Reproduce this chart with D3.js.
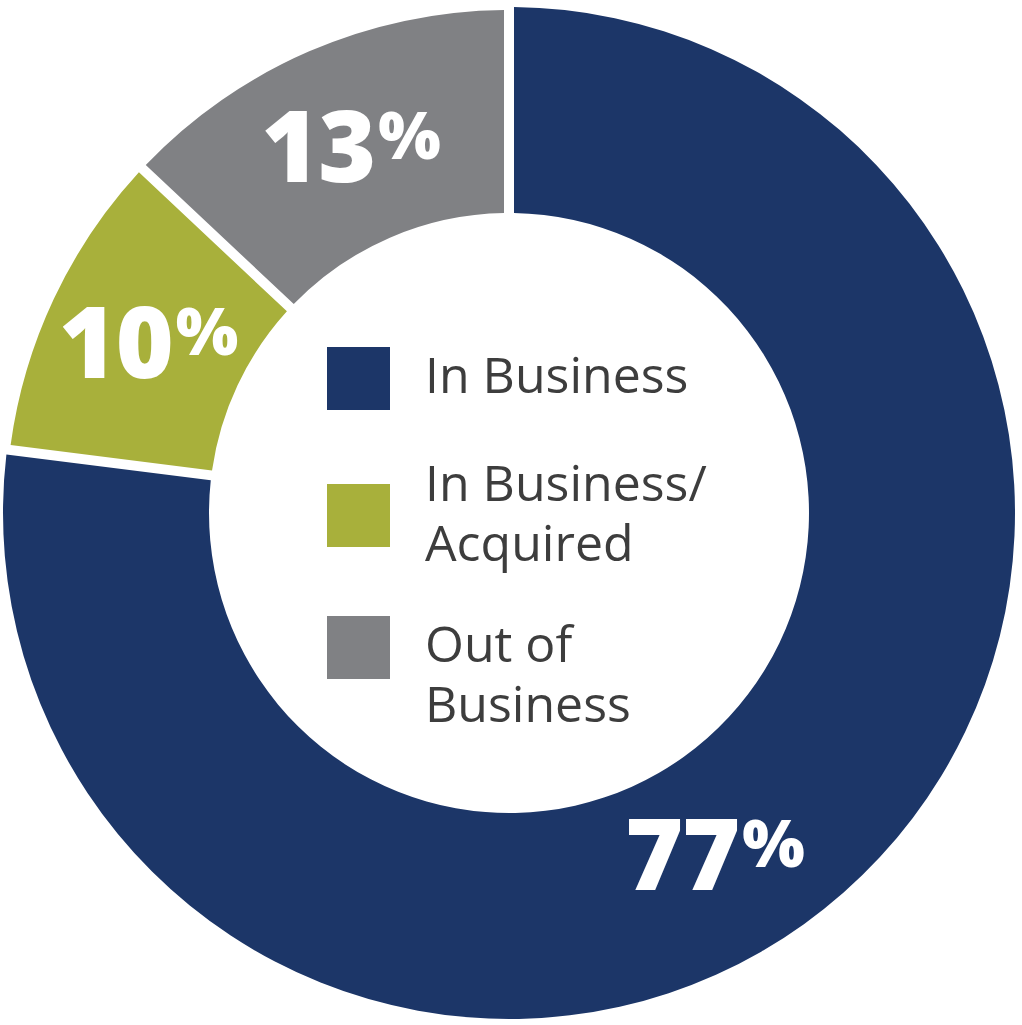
<!DOCTYPE html>
<html>
<head>
<meta charset="utf-8">
<script src="https://cdn.jsdelivr.net/npm/d3@7"></script>
<style>
  html, body { margin: 0; padding: 0; background: #ffffff; }
  svg { display: block; }
</style>
</head>
<body>
<svg id="chart" width="1022" height="1025"></svg>
<script>
// ---- data ----
const categories = ["In Business", "In Business/Acquired", "Out of Business"];
const values = [77, 10, 13];
const valueLabels = ["77", "10", "13"];
const legendLines = [["In Business"], ["In Business/", "Acquired"], ["Out of", "Business"]];
const colors = ["#1c3668", "#a8b03b", "#808184"];

// ---- layout / style ----
const W = 1022, H = 1025;
const cx = 509, cy = 513;
const innerR = 300;
const outerRs = [506, 503, 503];
const gap = 10;
const labelR = 399;
const labelAngleFrac = [0.5375, 0.5, 0.5];

const svg = d3.select("#chart");
const g = svg.append("g").attr("transform", `translate(${cx},${cy})`);

const pie = d3.pie().sort(null).value(d => d)(values);

const arc = d3.arc()
  .innerRadius(innerR)
  .padRadius(innerR)
  .padAngle(gap / innerR);

g.selectAll("path.slice")
  .data(pie)
  .join("path")
  .attr("class", "slice")
  .attr("fill", (d, i) => colors[i])
  .attr("d", (d, i) => arc.outerRadius(outerRs[i])(d));

// value labels
const bigSize = 99, pctSize = 66;
const capH = bigSize * 0.714;
pie.forEach((d, i) => {
  const a = d.startAngle + (d.endAngle - d.startAngle) * labelAngleFrac[i];
  const x = labelR * Math.sin(a);
  const y = -labelR * Math.cos(a);
  const t = g.append("text")
    .attr("x", x)
    .attr("y", y + capH / 2)
    .attr("text-anchor", "middle")
    .attr("fill", "#ffffff")
    .attr("font-family", "'Open Sans', sans-serif")
    .attr("font-weight", 800)
    .attr("font-size", bigSize)
    .attr("letter-spacing", -1);
  t.append("tspan").text(valueLabels[i]);
  t.append("tspan")
    .attr("font-size", pctSize)
    .attr("dy", -(capH - pctSize * 0.714))
    .attr("dx", 3)
    .text("%");
});

// legend
const legend = svg.append("g");
const sqX = 327, sqSize = 63;
const sqYs = [347, 484, 616];
const textX = 425;
const firstBaselines = [393, 501, 662];
const lineH = 60;
categories.forEach((c, i) => {
  legend.append("rect")
    .attr("x", sqX).attr("y", sqYs[i])
    .attr("width", sqSize).attr("height", sqSize)
    .attr("fill", colors[i]);
  const t = legend.append("text")
    .attr("fill", "#3d3d3d")
    .attr("font-family", "'Open Sans', sans-serif")
    .attr("font-size", 50);
  legendLines[i].forEach((ln, j) => {
    t.append("tspan")
      .attr("x", textX)
      .attr("y", firstBaselines[i] + j * lineH)
      .text(ln);
  });
});
</script>
</body>
</html>
